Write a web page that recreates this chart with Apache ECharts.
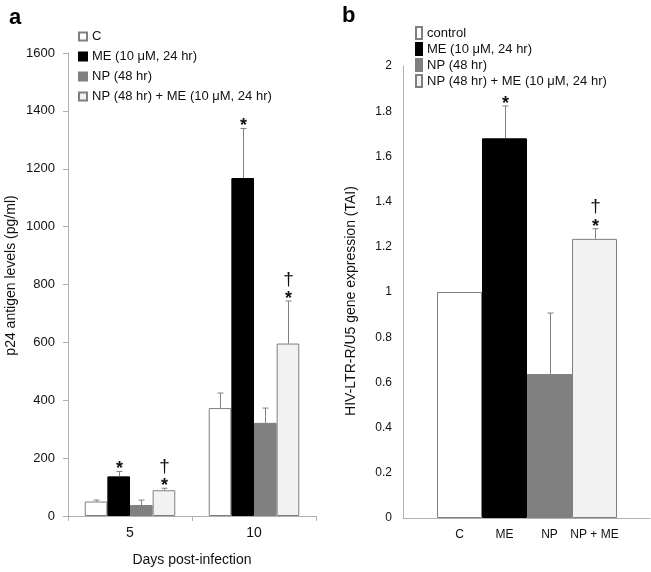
<!DOCTYPE html>
<html>
<head>
<meta charset="utf-8">
<script src="https://cdn.jsdelivr.net/npm/echarts@6/dist/echarts.min.js"></script>
<style>html,body{margin:0;padding:0;background:#fff}#c{width:651px;height:572px}</style>
</head>
<body>
<div id="c"></div>
<script>
// ---- Panel a data ----
const days = ['5', '10'];
const aNames = ['C', 'ME (10 μM, 24 hr)', 'NP (48 hr)', 'NP (48 hr) + ME (10 μM, 24 hr)'];
const aC = [50, 373];
const aCErr = [5, 52];
const aME = [137, 1168];
const aMEErr = [17, 171];
const aNP = [38, 322];
const aNPErr = [17, 51];
const aNPME = [89, 596];
const aNPMEErr = [7, 147];
const aCMarks = ['', ''];
const aMEMarks = ['*', '*'];
const aNPMarks = ['', ''];
const aNPMEMarks = ['*†', '*†'];
const aTicks = [0, 200, 400, 600, 800, 1000, 1200, 1400, 1600];

// ---- Panel b data ----
const bCats = ['C', 'ME', 'NP', 'NP + ME'];
const bNames = ['control', 'ME (10 μM, 24 hr)', 'NP (48 hr)', 'NP (48 hr) + ME (10 μM, 24 hr)'];
const bVals = [1.0, 1.68, 0.637, 1.235];
const bErr = [0, 0.143, 0.27, 0.045];
const bMarks = ['', '*', '', '*†'];
const bTicks = [0, 0.2, 0.4, 0.6, 0.8, 1, 1.2, 1.4, 1.6, 1.8, 2];

const FONT = "'Liberation Sans', Arial, sans-serif";
const fills = ['#ffffff', '#000000', '#808080', '#f2f2f2'];
const borders = ['#7f7f7f', '#000000', '#7f7f7f', '#7f7f7f'];
const axisCol = '#b0b0b0';
const errCol = '#808080';
const CAT_GAP = 0.27;

function marksChildren(x, top, mark) {
  const ch = [];
  if (mark.indexOf('*') >= 0) {
    ch.push({type: 'text', style: {text: '*', x: x, y: top + 7, textAlign: 'center', textVerticalAlign: 'bottom', font: 'bold 18px ' + FONT, fill: '#111'}});
  }
  if (mark.indexOf('†') >= 0) {
    ch.push({type: 'text', style: {text: '†', x: x, y: top - 12, textAlign: 'center', textVerticalAlign: 'bottom', font: '19px ' + FONT, fill: '#111'}});
  }
  return ch;
}

function errLine(x, y0, y1) {
  return [
    {type: 'line', shape: {x1: x, y1: y0, x2: x, y2: y1}, style: {stroke: errCol, lineWidth: 1}},
    {type: 'line', shape: {x1: x - 3, y1: y1, x2: x + 3, y2: y1}, style: {stroke: errCol, lineWidth: 1}}
  ];
}

const aVals = [aC, aME, aNP, aNPME];
const aErrs = [aCErr, aMEErr, aNPErr, aNPMEErr];
const aMarks = [aCMarks, aMEMarks, aNPMarks, aNPMEMarks];

const series = [];
aVals.forEach((vals, i) => {
  series.push({
    name: aNames[i], type: 'bar', xAxisIndex: 0, yAxisIndex: 0,
    data: vals, barGap: '0%', barCategoryGap: (CAT_GAP * 100) + '%',
    itemStyle: {color: fills[i], borderColor: borders[i], borderWidth: 1},
    emphasis: {disabled: true}
  });
});
aVals.forEach((vals, i) => {
  series.push({
    type: 'custom', xAxisIndex: 0, yAxisIndex: 0, z: 5,
    data: vals.map((v, k) => [k, v, aErrs[i][k]]),
    renderItem: function (params, api) {
      const k = api.value(0), v = api.value(1), e = api.value(2);
      const mark = aMarks[i][k];
      const band = api.size([1, 0])[0];
      const bw = band * (1 - CAT_GAP) / 4;
      const base = api.coord([k, v]);
      const x = Math.round(base[0] + (i - 1.5) * bw) + 0.5;
      const top = api.coord([k, v + e])[1];
      return {type: 'group', children: errLine(x, base[1], top).concat(marksChildren(x, top, mark))};
    }
  });
});

bVals.forEach((v, i) => {
  series.push({
    name: bNames[i], type: 'bar', xAxisIndex: 2, yAxisIndex: 2,
    data: bVals.map((w, j) => j === i ? w : '-'),
    barGap: '-100%', barCategoryGap: '0%',
    itemStyle: {color: fills[i], borderColor: borders[i], borderWidth: 1},
    emphasis: {disabled: true}
  });
});
series.push({
  type: 'custom', xAxisIndex: 2, yAxisIndex: 2, z: 5,
  data: bVals.map((v, j) => [j, v, bErr[j]]),
  renderItem: function (params, api) {
    const j = api.value(0), v = api.value(1), e = api.value(2);
    if (!e) return {type: 'group', children: []};
    const base = api.coord([j, v]);
    const x = Math.round(base[0]) + 0.5;
    const top = api.coord([j, v + e])[1];
    return {type: 'group', children: errLine(x, base[1], top).concat(marksChildren(x, top, bMarks[j]))};
  }
});

const option = {
  animation: false,
  backgroundColor: '#ffffff',
  textStyle: {fontFamily: FONT},
  title: [
    {text: 'a', left: 4, top: 2, textStyle: {fontSize: 22, fontWeight: 'bold', color: '#000', fontFamily: FONT}},
    {text: 'b', left: 337, top: 0, textStyle: {fontSize: 22, fontWeight: 'bold', color: '#000', fontFamily: FONT}}
  ],
  legend: [
    {data: aNames, orient: 'vertical', left: 73, top: 25, itemWidth: 8, itemHeight: 8, itemGap: 7, icon: 'rect',
     textStyle: {fontSize: 13, color: '#111', fontFamily: FONT}, selectedMode: false},
    {data: bNames, orient: 'vertical', left: 410, top: 21, itemWidth: 6, itemHeight: 12, itemGap: 2, icon: 'rect',
     textStyle: {fontSize: 13, color: '#111', fontFamily: FONT}, selectedMode: false}
  ],
  grid: [
    {left: 68, right: 335, top: 53, bottom: 52},
    {left: 403, right: 1, top: 66, bottom: 54},
    {left: 437, right: 34, top: 66, bottom: 54}
  ],
  xAxis: [
    {gridIndex: 0, type: 'category', data: days,
     axisLine: {lineStyle: {color: axisCol}}, axisTick: {show: true, length: 5, lineStyle: {color: axisCol}},
     axisLabel: {fontSize: 14, color: '#111', margin: 10},
     name: 'Days post-infection', nameLocation: 'middle', nameGap: 37,
     nameTextStyle: {fontSize: 14, color: '#111', fontFamily: FONT}},
    {gridIndex: 1, type: 'category', data: [''],
     axisLine: {lineStyle: {color: axisCol}}, axisTick: {show: false}, axisLabel: {show: false}},
    {gridIndex: 2, type: 'category', data: bCats,
     axisLine: {show: false}, axisTick: {show: false},
     axisLabel: {fontSize: 12, color: '#111', margin: 11, interval: 0}}
  ],
  yAxis: [
    {gridIndex: 0, type: 'value', min: aTicks[0], max: aTicks[aTicks.length - 1], interval: 200,
     splitLine: {show: false},
     axisLine: {show: true, lineStyle: {color: axisCol}}, axisTick: {show: true, length: 5, lineStyle: {color: axisCol}},
     axisLabel: {fontSize: 13, color: '#111', margin: 13, formatter: v => String(v)},
     name: 'p24 antigen levels (pg/ml)', nameLocation: 'middle', nameGap: 50,
     nameTextStyle: {fontSize: 14, color: '#111', fontFamily: FONT, padding: [0, 0, 0, 18]}},
    {gridIndex: 1, type: 'value', min: bTicks[0], max: bTicks[bTicks.length - 1], interval: 0.2,
     splitLine: {show: false},
     axisLine: {show: true, lineStyle: {color: axisCol}}, axisTick: {show: false},
     axisLabel: {fontSize: 12, color: '#111', margin: 11},
     name: 'HIV-LTR-R/U5 gene expression (TAI)', nameLocation: 'middle', nameGap: 45,
     nameTextStyle: {fontSize: 14, color: '#111', fontFamily: FONT, padding: [0, 18, 0, 0]}},
    {gridIndex: 2, type: 'value', min: bTicks[0], max: bTicks[bTicks.length - 1], show: false}
  ],
  series: series
};

const chart = echarts.init(document.getElementById('c'), null, {renderer: 'canvas'});
chart.setOption(option);
</script>
</body>
</html>
